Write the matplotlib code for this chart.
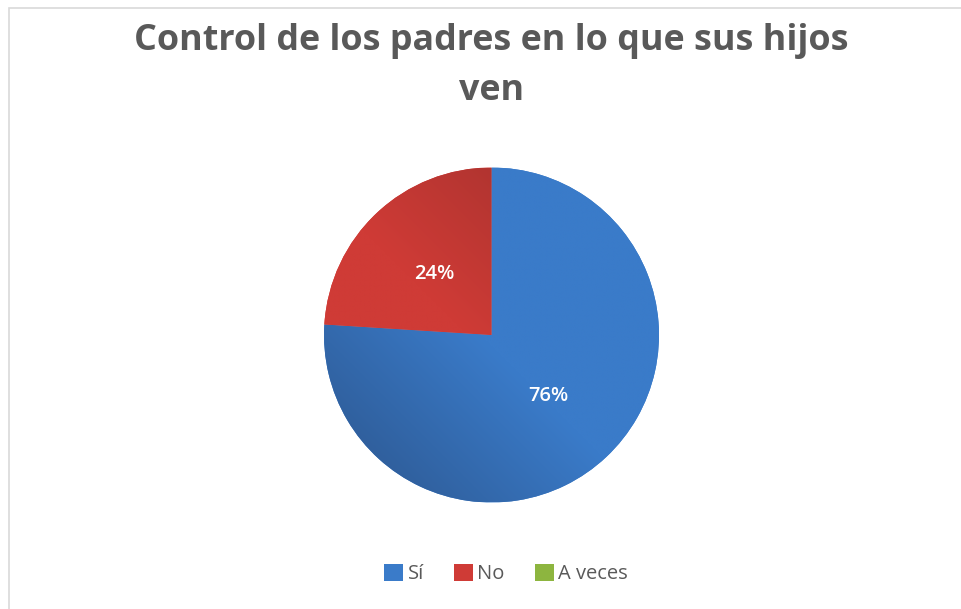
import numpy as np
import matplotlib
matplotlib.use("Agg")
import matplotlib.pyplot as plt
from matplotlib.colors import to_rgb
from matplotlib.patches import Rectangle

# Respuestas de la encuesta
labels = ["Sí", "No", "A veces"]
values = [76, 24, 0]
colors = ["#3A7BC9", "#CF3B36", "#8DB53F"]
dark_colors = ["#30609E", "#B03430", "#6E8F31"]

title_lines = ["Control de los padres en lo que sus hijos", "ven"]
text_grey = "#595959"

plt.rcParams["font.family"] = ["Open Sans", "DejaVu Sans"]

W, H = 962, 609
fig = plt.figure(figsize=(W / 100, H / 100), dpi=100)

# light frame around the chart area
fig.patches.append(Rectangle((9 / W, -0.1), 1.1, 1 - 8 / H + 0.1,
                             transform=fig.transFigure, fill=False,
                             edgecolor="#D9D9D9", linewidth=1.2))

# title, one baseline per line
for line, base_y in zip(title_lines, [50, 100]):
    fig.text(491.5 / W, 1 - base_y / H, line, ha="center", va="baseline",
             fontsize=25.8, fontweight="bold", color=text_grey)

# square axes holding the pie (center 491.5, 335 px, radius 167.5 px)
cx, cy, r = 491.5, 335, 167.5
ax = fig.add_axes([(cx - r) / W, (H - cy - r) / H, 2 * r / W, 2 * r / H])


def pct_label(p):
    return f"{p:.0f}%" if p > 0 else ""


wedges, texts, autotexts = ax.pie(
    values, colors=colors, startangle=90, counterclock=False,
    autopct=pct_label, pctdistance=0.5, radius=1,
    wedgeprops=dict(linewidth=0, edgecolor="none"),
    textprops=dict(color="white", fontsize=14.5, fontweight="semibold"),
)
ax.set_xlim(-1, 1)
ax.set_ylim(-1, 1)
ax.set_aspect("auto")
ax.axis("off")

# linear shading inside each slice
xx, yy = np.meshgrid(np.linspace(-1, 1, 400), np.linspace(-1, 1, 400))
shade_dirs = [(-1, -1, 0.05, 1.0), (1, 1, -0.1, 0.75), (1, 1, 0.0, 1.0)]
for w, base, dark, (dx, dy, t0, t1) in zip(wedges, colors, dark_colors, shade_dirs):
    t = (xx * dx + yy * dy) / np.hypot(dx, dy)
    t = np.clip((t - t0) / (t1 - t0), 0, 1)[..., None]
    img = (1 - t) * np.array(to_rgb(base)) + t * np.array(to_rgb(dark))
    im = ax.imshow(img, extent=(-1, 1, -1, 1), origin="lower", zorder=1.5,
                   interpolation="bilinear")
    im.set_clip_path(w)
for at in autotexts:
    at.set_zorder(3)

leg = fig.legend(wedges, labels, loc="center", bbox_to_anchor=(506 / W, 1 - 574 / H),
                 ncol=3, frameon=False, fontsize=14.5, handlelength=0.95,
                 handleheight=0.95, handletextpad=0.2, columnspacing=1.5)
for txt in leg.get_texts():
    txt.set_color(text_grey)

fig.savefig("out.png", dpi=100, facecolor="white")
